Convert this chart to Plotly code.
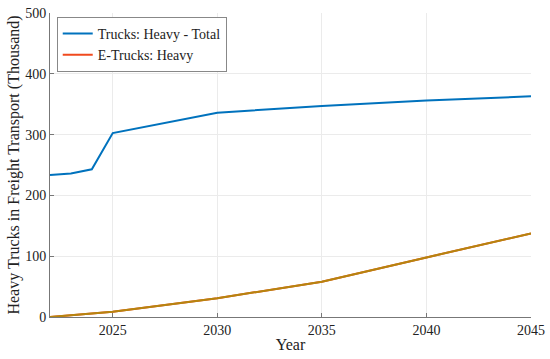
import plotly.graph_objects as go

years_total = [2022, 2023, 2024, 2025, 2030, 2035, 2040, 2045]
trucks_total = [233.5, 236, 243, 302.5, 336, 347, 356, 363]

years_e = [2022, 2025, 2030, 2035, 2040, 2045]
e_trucks = [0, 8.7, 31, 58, 98, 137.5]

x_ticks = [2025, 2030, 2035, 2040, 2045]
y_ticks = [0, 100, 200, 300, 400, 500]

font = "Liberation Serif"

fig = go.Figure()
fig.add_trace(go.Scatter(x=years_total, y=trucks_total, mode="lines",
                         name="Trucks: Heavy - Total",
                         line=dict(color="#0072BD", width=2)))
fig.add_trace(go.Scatter(x=years_e, y=e_trucks, mode="lines",
                         name="E-Trucks: Heavy",
                         line=dict(color="#F04A1E", width=2)))
fig.add_trace(go.Scatter(x=years_e, y=e_trucks, mode="lines",
                         showlegend=False, hoverinfo="skip",
                         line=dict(color="#B5850F", width=2)))

fig.update_layout(
    width=550, height=359,
    margin=dict(l=50, r=19, t=13, b=42, autoexpand=False),
    paper_bgcolor="white", plot_bgcolor="white",
    font=dict(family=font, size=14, color="#222"),
    legend=dict(x=0.014, y=0.987, xanchor="left", yanchor="top",
                bgcolor="white", bordercolor="#888", borderwidth=1,
                font=dict(family=font, size=14, color="#222"),
                tracegroupgap=0, itemwidth=30),
    showlegend=True,
)
fig.update_xaxes(range=[2022, 2045], tickvals=x_ticks,
                 showgrid=True, gridcolor="#ebebeb", gridwidth=1,
                 showline=True, linecolor="#777", linewidth=1,
                 ticks="inside", ticklen=4, tickcolor="#777",
                 zeroline=False, automargin=False,
                 ticklabeloverflow="allow",
                 title=dict(text="Year", standoff=2,
                            font=dict(family=font, size=16)),
                 tickfont=dict(family=font, size=14))
fig.update_yaxes(range=[0, 500], tickvals=y_ticks,
                 showgrid=True, gridcolor="#ebebeb", gridwidth=1,
                 showline=True, linecolor="#777", linewidth=1,
                 ticks="inside", ticklen=4, tickcolor="#777",
                 zeroline=False, automargin=False,
                 ticklabeloverflow="allow",
                 title=dict(text="Heavy Trucks in Freight Transport (Thousand)",
                            standoff=1, font=dict(family=font, size=16)),
                 tickfont=dict(family=font, size=14))

fig.write_html("out.html", config={"displayModeBar": False},
               post_script="document.body.style.margin='0';document.body.style.overflow='hidden';")
